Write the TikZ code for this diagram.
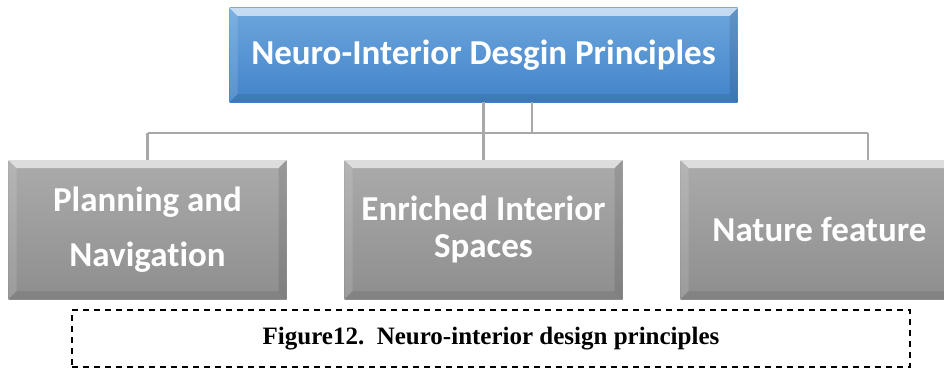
\documentclass[tikz,border=0pt]{standalone}
\usepackage{fontspec}
\setmainfont{Liberation Serif}
\newfontfamily\boxfont[Ligatures=NoCommon]{Carlito}
\usetikzlibrary{calc}
\definecolor{bluetop}{HTML}{6DA6DD}
\definecolor{bluebot}{HTML}{4283C9}
\definecolor{graytop}{HTML}{ABABAB}
\definecolor{graybot}{HTML}{8E8E8E}
\definecolor{connc}{HTML}{A8A8A8}
\tikzset{
  bevelbox/.style={draw=none, inner sep=0pt, text=white, align=center,
    font=\boxfont\bfseries\fontsize{35}{41}\selectfont,
    path picture={
      \fill[white,opacity=0.6] (path picture bounding box.north west) -- (path picture bounding box.north east)
        -- ([xshift=-8pt,yshift=-8pt]path picture bounding box.north east) -- ([xshift=8pt,yshift=-8pt]path picture bounding box.north west) -- cycle;
      \fill[white,opacity=0.12] (path picture bounding box.north west) -- ([xshift=8pt,yshift=-8pt]path picture bounding box.north west)
        -- ([xshift=8pt,yshift=8pt]path picture bounding box.south west) -- (path picture bounding box.south west) -- cycle;
      \fill[black,opacity=0.10] (path picture bounding box.north east) -- ([xshift=-8pt,yshift=-8pt]path picture bounding box.north east)
        -- ([xshift=-8pt,yshift=8pt]path picture bounding box.south east) -- (path picture bounding box.south east) -- cycle;
      \fill[black,opacity=0.08] (path picture bounding box.south west) -- ([xshift=8pt,yshift=8pt]path picture bounding box.south west)
        -- ([xshift=-8pt,yshift=8pt]path picture bounding box.south east) -- (path picture bounding box.south east) -- cycle;
    }},
  bluebox/.style={bevelbox, top color=bluetop, bottom color=bluebot},
  graybox/.style={bevelbox, top color=graytop, bottom color=graybot, minimum width=278pt, minimum height=139pt},
  conn/.style={draw=connc, line width=2.2pt},
  capbox/.style={draw=black, line width=1.1pt, dash pattern=on 6pt off 5pt, minimum width=838pt, minimum height=57pt,
    font=\bfseries\fontsize{25}{29}\selectfont}
}
\begin{document}
\begin{tikzpicture}[x=1pt,y=-1pt]
\useasboundingbox (0,0) rectangle (944,369);
\clip (0,0) rectangle (944,369);
\fill[white] (0,0) rectangle (944,369);
% boxes
\node[bluebox, minimum width=508pt, minimum height=94pt] (top) at (483.5,55) {Neuro-Interior Desgin Principles};
\node[graybox] (plan) at (147.5,229.5) {Planning and\\[14pt]Navigation};
\node[graybox, font=\boxfont\bfseries\fontsize{35}{37}\selectfont] (mid) at (483.5,229.5) {Enriched Interior\\Spaces};
\node[graybox] (nat) at (819.5,229.5) {Nature feature};
% connectors
\coordinate (j1) at (532,133);
\coordinate (jl) at (147.5,133);
\coordinate (jr) at (868,133);
\draw[conn] (top.south) -- (mid.north);
\draw[conn] (top.south -| j1) -- (j1);
\draw[conn] (jl) -- (jr);
\draw[conn] (jl) -- (plan.north);
\draw[conn] (jr) -- (jr |- nat.north);
% caption
\node[capbox] (cap) at (491,338.5) {Figure12.\ \ Neuro-interior design principles};
\end{tikzpicture}
\end{document}
